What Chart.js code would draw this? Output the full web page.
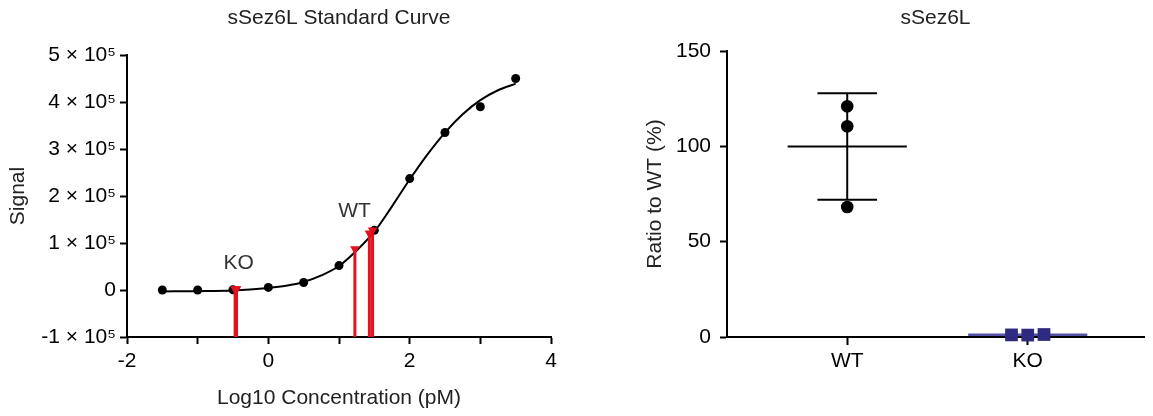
<!DOCTYPE html>
<html lang="en">
<head>
<meta charset="UTF-8">
<title>sSez6L</title>
<script src="https://cdn.jsdelivr.net/npm/chart.js@4"></script>
<style>
  html, body { margin: 0; padding: 0; background: #fff; overflow: hidden; }
  #curveBox { position: absolute; left: 0; top: 0; width: 580px; height: 416px; }
  #ratioBox { position: absolute; left: 580px; top: 0; width: 573px; height: 416px; }
</style>
</head>
<body>
<div id="curveBox"><canvas id="curveChart" width="580" height="416"></canvas></div>
<div id="ratioBox"><canvas id="ratioChart" width="573" height="416"></canvas></div>

<script>
// --- standard curve (left panel) ---
const stdLogConc = [-1.5, -1, -0.5, 0, 0.5, 1, 1.5, 2, 2.5, 3, 3.5];
const stdSignal = [0, 0, 500, 5500, 16000, 52000, 127000, 237000, 335000, 390000, 450000];

// fitted curve
const fitLogConc = [-1.5, -1, -0.5, 0, 0.25, 0.5, 0.75, 1, 1.25, 1.5, 1.75, 2, 2.25, 2.5, 2.75, 3, 3.25, 3.5];
const fitSignal = [-3000, -2500, -1000, 4500, 9000, 17000, 31000, 51000, 84000, 124000, 178000, 235000, 288000, 335000, 374000, 404000, 425000, 439000];

// samples interpolated on the curve
const koLogConc = [-0.47, -0.46, -0.45];
const koSignal = [1500, 1700, 2000];
const wtLogConc = [1.225, 1.43, 1.475];
const wtSignal = [87000, 121000, 127000];

// text labels next to the samples
const sampleLabels = ['KO', 'WT'];
const sampleLabelX = [-0.42, 1.22];
const sampleLabelY = [57000, 167000];

const concTickValues = [-2, 0, 2, 4];
const concTickLabels = ['-2', '0', '2', '4'];
const signalTickValues = [-100000, 0, 100000, 200000, 300000, 400000, 500000];
const signalTickLabels = ['-1 × 10⁵', '0', '1 × 10⁵', '2 × 10⁵', '3 × 10⁵', '4 × 10⁵', '5 × 10⁵'];

// --- ratio to WT (right panel) ---
const groups = ['WT', 'KO'];
const wtRatio = [121, 110.5, 68.2];
const koRatio = [1.1, 1.0, 1.3];
const koDodge = [-0.09, 0, 0.09];   // side-by-side offsets of overlapping KO points
const ratioTickValues = [0, 50, 100, 150];

const FONT = '"Liberation Sans", Arial, Helvetica, sans-serif';
const RED = '#e3101e';
const NAVY = '#2e2a80';

Chart.defaults.font.family = FONT;
Chart.defaults.font.size = 21;
Chart.defaults.color = '#000';

function mean(a) { return a.reduce((s, v) => s + v, 0) / a.length; }
function sd(a) {
    const m = mean(a);
    return Math.sqrt(a.reduce((s, v) => s + (v - m) * (v - m), 0) / (a.length - 1));
}

// title centred over the plot area
const panelTitle = {
    id: 'panelTitle',
    afterDraw(chart, args, opts) {
        const { ctx, chartArea } = chart;
        ctx.save();
        ctx.font = '21px ' + FONT;
        ctx.fillStyle = '#222';
        ctx.textAlign = 'center';
        ctx.textBaseline = 'middle';
        ctx.fillText(opts.text, (chartArea.left + chartArea.right) / 2, opts.y);
        ctx.restore();
    }
};

// labels placed in data space
const dataLabels = {
    id: 'dataLabels',
    afterDatasetsDraw(chart, args, opts) {
        if (!opts.texts) return;
        const { ctx, scales } = chart;
        ctx.save();
        ctx.font = '21px ' + FONT;
        ctx.fillStyle = '#333';
        ctx.textAlign = 'center';
        ctx.textBaseline = 'middle';
        opts.texts.forEach((t, i) => {
            ctx.fillText(t, scales.x.getPixelForValue(opts.xs[i]), scales.y.getPixelForValue(opts.ys[i]));
        });
        ctx.restore();
    }
};

function axisStyle(tickLen) {
    return {
        border: { display: true, color: '#000', width: 2 },
        grid: { drawOnChartArea: false, drawTicks: true, tickLength: tickLen, tickColor: '#000', tickWidth: 2 }
    };
}

// ---------- left chart ----------
const dropLines = [];
koLogConc.concat(wtLogConc).forEach((x, i) => {
    const y = koSignal.concat(wtSignal)[i];
    dropLines.push({
        type: 'line',
        data: [{ x: x, y: signalTickValues[0] }, { x: x, y: y }],
        borderColor: RED,
        borderWidth: 3,
        pointRadius: [0, 5.5],
        pointStyle: 'triangle',
        pointRotation: 180,
        pointBackgroundColor: RED,
        pointBorderWidth: 0
    });
});

new Chart(document.getElementById('curveChart'), {
    type: 'scatter',
    data: {
        datasets: dropLines.concat([
            {
                type: 'scatter',
                data: stdLogConc.map((x, i) => ({ x: x, y: stdSignal[i] })),
                backgroundColor: '#000',
                borderWidth: 0,
                pointRadius: 4.5
            },
            {
                type: 'line',
                data: fitLogConc.map((x, i) => ({ x: x, y: fitSignal[i] })),
                borderColor: '#000',
                borderWidth: 2,
                pointRadius: 0,
                cubicInterpolationMode: 'monotone'
            }
        ])
    },
    options: {
        responsive: false,
        animation: false,
        layout: { padding: { top: 55, right: 29, left: 0, bottom: 0 } },
        plugins: {
            legend: { display: false },
            tooltip: { enabled: false },
            panelTitle: { text: 'sSez6L Standard Curve', y: 18 },
            dataLabels: { texts: sampleLabels, xs: sampleLabelX, ys: sampleLabelY }
        },
        scales: {
            x: {
                type: 'linear',
                min: -2, max: 4,
                ...axisStyle(7),
                ticks: {
                    stepSize: 1, padding: 5, color: '#000',
                    callback: v => { const i = concTickValues.indexOf(v); return i >= 0 ? concTickLabels[i] : ''; }
                },
                title: { display: true, text: 'Log10 Concentration (pM)', color: '#222', padding: { top: 0, bottom: 5 } },
                afterFit: s => { s.height = 79; }
            },
            y: {
                type: 'linear',
                min: -100000, max: 500000,
                ...axisStyle(7),
                ticks: {
                    stepSize: 100000, padding: 4, color: '#000',
                    callback: v => { const i = signalTickValues.indexOf(v); return i >= 0 ? signalTickLabels[i] : ''; }
                },
                title: { display: true, text: 'Signal', color: '#222', padding: { top: 6, bottom: 0 } },
                afterFit: s => { s.width = 127; }
            }
        }
    },
    plugins: [panelTitle, dataLabels]
});

// ---------- right chart ----------
const wtMean = mean(wtRatio), wtSd = sd(wtRatio);
const koMean = mean(koRatio);
const MEAN_HALF = 0.33, CAP_HALF = 0.165;

function seg(x1, y1, x2, y2, color, width) {
    return {
        type: 'line',
        data: [{ x: x1, y: y1 }, { x: x2, y: y2 }],
        borderColor: color,
        borderWidth: width,
        pointRadius: 0,
        clip: false
    };
}

new Chart(document.getElementById('ratioChart'), {
    type: 'scatter',
    data: {
        datasets: [
            {
                data: wtRatio.map(v => ({ x: 0, y: v })),
                backgroundColor: '#000',
                borderWidth: 0,
                pointRadius: 6.3
            },
            {
                data: koRatio.map((v, i) => ({ x: 1 + koDodge[i], y: v })),
                backgroundColor: NAVY,
                borderWidth: 0,
                pointStyle: 'rect',
                pointRadius: 9,
                clip: false
            },
            seg(-MEAN_HALF, wtMean, MEAN_HALF, wtMean, '#000', 2),
            seg(0, wtMean - wtSd, 0, wtMean + wtSd, '#000', 2),
            seg(-CAP_HALF, wtMean + wtSd, CAP_HALF, wtMean + wtSd, '#000', 2),
            seg(-CAP_HALF, wtMean - wtSd, CAP_HALF, wtMean - wtSd, '#000', 2),
            seg(1 - MEAN_HALF, koMean, 1 + MEAN_HALF, koMean, '#5552a8', 2.5)
        ]
    },
    options: {
        responsive: false,
        animation: false,
        layout: { padding: { top: 51, right: 0, left: 0, bottom: 0 } },
        plugins: {
            legend: { display: false },
            tooltip: { enabled: false },
            panelTitle: { text: 'sSez6L', y: 18 }
        },
        scales: {
            x: {
                type: 'linear',
                min: -0.666, max: 1.644,
                ...axisStyle(8),
                afterBuildTicks: s => { s.ticks = groups.map((g, i) => ({ value: i })); },
                ticks: { padding: 4, color: '#000', callback: v => groups[v] },
                afterFit: s => { s.height = 79; }
            },
            y: {
                type: 'linear',
                min: 0, max: 150,
                ...axisStyle(7),
                afterBuildTicks: s => { s.ticks = ratioTickValues.map(v => ({ value: v })); },
                ticks: { padding: 9, color: '#000' },
                title: { display: true, text: 'Ratio to WT (%)', color: '#222', padding: { top: 63, bottom: 0 } },
                afterFit: s => { s.width = 147; }
            }
        }
    },
    plugins: [panelTitle]
});
</script>
</body>
</html>
